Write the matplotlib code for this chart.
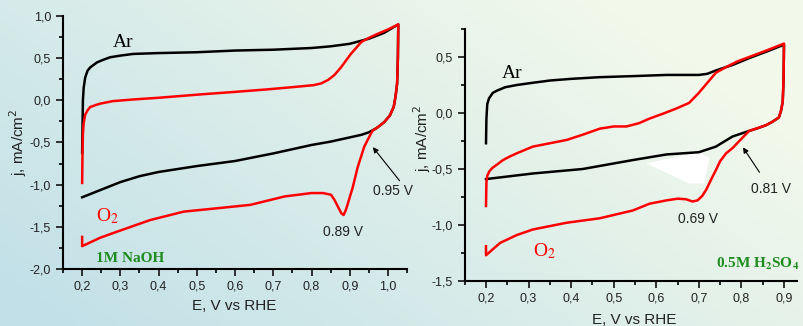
import numpy as np
from matplotlib import pyplot as plt
from matplotlib import ticker

plt.rcParams["font.family"] = ["Liberation Sans", "DejaVu Sans"]

dpi = 100
green = "#1e8c1e"

# ---- 1M NaOH (left panel) ----
ar_naoh_v = [0.2, 0.201, 0.202, 0.204, 0.208, 0.214, 0.221, 0.23, 0.239, 0.255, 0.273,
             0.3, 0.334, 0.4, 0.5, 0.6, 0.7, 0.8, 0.85, 0.9, 0.95, 0.99, 1.027,
             1.026, 1.024, 1.02, 1.015, 1.005, 0.99, 0.97, 0.95, 0.93, 0.9, 0.85, 0.8,
             0.7, 0.6, 0.5, 0.4, 0.35, 0.3, 0.25, 0.2]
ar_naoh_j = [-0.62, -0.3, 0.0, 0.15, 0.27, 0.35, 0.39, 0.42, 0.45, 0.48, 0.51,
             0.53, 0.55, 0.56, 0.57, 0.59, 0.60, 0.62, 0.64, 0.67, 0.73, 0.80, 0.90,
             0.5, 0.2, 0.05, -0.08, -0.18, -0.26, -0.33, -0.38, -0.41, -0.44, -0.49, -0.53,
             -0.63, -0.72, -0.78, -0.85, -0.9, -0.97, -1.06, -1.15]

o2_naoh_v = [0.2, 0.201, 0.202, 0.204, 0.208, 0.214, 0.221, 0.233, 0.247, 0.28, 0.334,
             0.4, 0.51, 0.6, 0.686, 0.76, 0.806, 0.825, 0.843, 0.86, 0.877, 0.903, 0.93,
             0.95, 0.974, 1.0, 1.027,
             1.026, 1.024, 1.02, 1.015, 1.005, 0.99, 0.973, 0.96, 0.956, 0.938, 0.921,
             0.908, 0.898, 0.89, 0.884, 0.878, 0.869, 0.86, 0.851, 0.83, 0.8, 0.73,
             0.64, 0.554, 0.466, 0.378, 0.29, 0.247, 0.2, 0.2]
o2_naoh_j = [-0.98, -0.6, -0.4, -0.27, -0.17, -0.12, -0.08, -0.06, -0.04, -0.01, 0.01,
             0.03, 0.07, 0.1, 0.13, 0.16, 0.18, 0.2, 0.24, 0.3, 0.39, 0.55, 0.69,
             0.74, 0.79, 0.84, 0.9,
             0.5, 0.2, 0.05, -0.08, -0.18, -0.26, -0.32, -0.36, -0.39, -0.55, -0.79,
             -1.03, -1.18, -1.3, -1.36, -1.34, -1.26, -1.18, -1.12, -1.1, -1.1, -1.14,
             -1.24, -1.28, -1.32, -1.42, -1.56, -1.63, -1.73, -1.62]

# ---- 0.5M H2SO4 (right panel) ----
ar_h2so4_v = [0.2, 0.201, 0.203, 0.207, 0.216, 0.226, 0.245, 0.272, 0.31, 0.35, 0.4,
              0.467, 0.55, 0.624, 0.7, 0.72, 0.74, 0.78, 0.818, 0.86, 0.9,
              0.899, 0.897, 0.893, 0.888, 0.872, 0.857, 0.835, 0.818, 0.779, 0.74,
              0.7, 0.624, 0.545, 0.427, 0.31, 0.2]
ar_h2so4_j = [-0.27, -0.05, 0.08, 0.13, 0.18, 0.2, 0.23, 0.25, 0.27, 0.29, 0.305,
              0.32, 0.33, 0.34, 0.34, 0.35, 0.38, 0.43, 0.49, 0.55, 0.61,
              0.3, 0.1, 0.02, -0.04, -0.08, -0.11, -0.14, -0.16, -0.21, -0.3,
              -0.35, -0.37, -0.42, -0.5, -0.54, -0.59]

o2_h2so4_v = [0.2, 0.201, 0.203, 0.208, 0.215, 0.226, 0.24, 0.255, 0.272, 0.31, 0.35,
              0.39, 0.43, 0.467, 0.5, 0.53, 0.56, 0.584, 0.62, 0.647, 0.677, 0.7, 0.72,
              0.74, 0.764, 0.79, 0.818, 0.86, 0.9,
              0.899, 0.897, 0.893, 0.888, 0.872, 0.857, 0.818, 0.795, 0.78, 0.764,
              0.75, 0.74, 0.728, 0.718, 0.708, 0.697, 0.685, 0.67, 0.65, 0.624, 0.584,
              0.545, 0.467, 0.389, 0.31, 0.272, 0.233, 0.2, 0.2]
o2_h2so4_j = [-0.83, -0.62, -0.56, -0.52, -0.49, -0.46, -0.42, -0.39, -0.36, -0.3, -0.27,
              -0.24, -0.19, -0.14, -0.12, -0.12, -0.09, -0.05, 0.0, 0.04, 0.09, 0.18, 0.27,
              0.36, 0.41, 0.46, 0.5, 0.56, 0.62,
              0.3, 0.1, 0.02, -0.04, -0.08, -0.11, -0.16, -0.25, -0.31, -0.36,
              -0.43, -0.51, -0.6, -0.68, -0.74, -0.78, -0.79, -0.77, -0.765, -0.78, -0.81,
              -0.87, -0.94, -0.98, -1.04, -1.09, -1.16, -1.27, -1.19]

# white glare patch in the scanned right figure
glare_v = [0.577, 0.70, 0.725, 0.712, 0.678]
glare_j = [-0.45, -0.35, -0.40, -0.63, -0.63]


def comma(x, pos):
    return ("%.1f" % x).replace(".", ",")


def style_axes(ax, xmax, ymin, ymax, ymajor):
    ax.patch.set_alpha(0)
    for s in ["top", "right"]:
        ax.spines[s].set_visible(False)
    for s in ["left", "bottom"]:
        ax.spines[s].set_linewidth(1.5)
    ax.set_xlim(0.15, xmax)
    ax.set_ylim(ymin, ymax)
    ax.xaxis.set_major_locator(ticker.MultipleLocator(0.1))
    ax.xaxis.set_minor_locator(ticker.MultipleLocator(0.05))
    ax.yaxis.set_major_locator(ticker.MultipleLocator(ymajor))
    ax.yaxis.set_minor_locator(ticker.MultipleLocator(ymajor / 2))
    ax.xaxis.set_major_formatter(ticker.FuncFormatter(comma))
    ax.yaxis.set_major_formatter(ticker.FuncFormatter(comma))
    ax.tick_params(which="major", direction="out", length=5, width=1.3,
                   labelsize=9, colors="#222222")
    ax.tick_params(which="minor", direction="out", length=3, width=1.2)
    ax.set_xlabel("E, V vs RHE", fontsize=11, color="#222222")
    ax.set_ylabel("j, mA/cm$^2$", fontsize=11, color="#222222")


fig = plt.figure(figsize=(8.04, 3.26), dpi=dpi)

# background gradient (teal-blue on the left/bottom, pale green top right)
bg = fig.add_axes([0, 0, 1, 1])
bg.axis("off")
yy, xx = np.mgrid[0:1:80j, 0:1:200j]
t = np.clip(0.8 * (1 - xx) + 0.45 * yy - 0.2, 0, 1)[..., None]
c_blue = np.array([0.76, 0.88, 0.91])
c_green = np.array([0.95, 0.975, 0.92])
bg.imshow(c_green * (1 - t) + c_blue * t, aspect="auto", extent=[0, 1, 0, 1],
          interpolation="bicubic")

# left: 1M NaOH
ax1 = fig.add_axes([0.0784, 0.175, 0.4279, 0.776])
style_axes(ax1, 1.05, -2.0, 1.0, 0.5)
ax1.plot(ar_naoh_v, ar_naoh_j, color="black", lw=1.8)
ax1.plot(o2_naoh_v, o2_naoh_j, color="red", lw=1.8)
ax1.text(0.279, 0.63, "Ar", family="Liberation Serif", fontsize=14)
ax1.text(0.237, -1.44, "O$_2$", family="Liberation Serif", math_fontfamily="stix",
         fontsize=14, color="red")
ax1.text(0.237, -1.92, "1M NaOH", family="Liberation Serif", fontweight="bold",
         fontsize=11, color=green)
ax1.text(0.83, -1.61, "0.89 V", fontsize=10, color="#222222")
ax1.text(0.961, -1.125, "0.95 V", fontsize=10, color="#222222", clip_on=False)
ax1.annotate("", xy=(0.956, -0.53), xytext=(1.035, -0.98),
             arrowprops=dict(arrowstyle="-|>", color="black", lw=0.8, mutation_scale=8))
ax1.xaxis.set_label_coords(0.497, -0.12)
ax1.yaxis.set_label_coords(-0.098, 0.5)

# right: 0.5M H2SO4
ax2 = fig.add_axes([0.578, 0.138, 0.413, 0.773])
style_axes(ax2, 0.93, -1.5, 0.75, 0.5)
ax2.fill(glare_v, glare_j, color="white", lw=0, zorder=1)
ax2.plot(ar_h2so4_v, ar_h2so4_j, color="black", lw=1.8, zorder=2)
ax2.plot(o2_h2so4_v, o2_h2so4_j, color="red", lw=1.8, zorder=3)
ax2.text(0.237, 0.31, "Ar", family="Liberation Serif", fontsize=14)
ax2.text(0.31, -1.28, "O$_2$", family="Liberation Serif", math_fontfamily="stix",
         fontsize=14, color="red")
ax2.text(0.741, -1.38, r"0.5M H$_\mathbf{2}$SO$_\mathbf{4}$", family="Liberation Serif",
         math_fontfamily="stix", fontweight="bold", fontsize=11, color=green)
ax2.text(0.65, -0.98, "0.69 V", fontsize=10, color="#222222")
ax2.text(0.823, -0.714, "0.81 V", fontsize=10, color="#222222")
ax2.annotate("", xy=(0.8, -0.286), xytext=(0.846, -0.55),
             arrowprops=dict(arrowstyle="-|>", color="black", lw=0.8, mutation_scale=8))
ax2.xaxis.set_label_coords(0.509, -0.127)
ax2.yaxis.set_label_coords(-0.096, 0.567)

fig.savefig("out.png", dpi=dpi)
